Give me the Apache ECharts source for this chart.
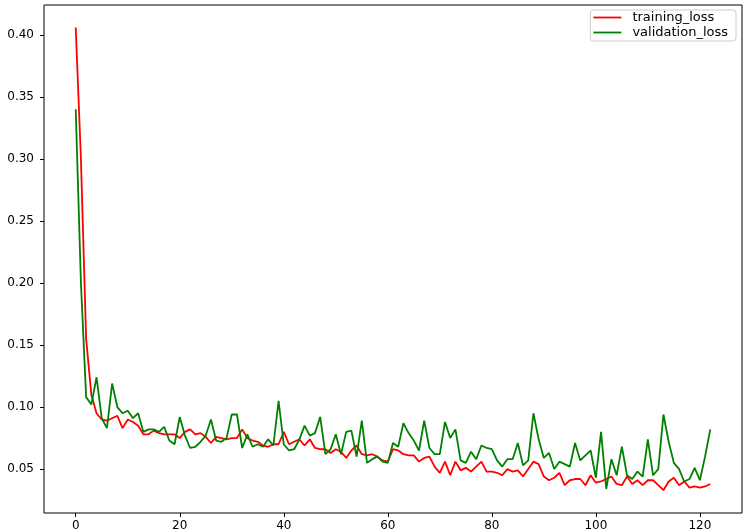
<!DOCTYPE html>
<html><head><meta charset="utf-8">
<script src="https://cdn.jsdelivr.net/npm/echarts@6/dist/echarts.min.js"></script>
<style>html,body{margin:0;padding:0;background:#fff}#c{width:750px;height:532px}</style>
</head><body><div id="c"></div>
<script>
const xTicks = [0, 20, 40, 60, 80, 100, 120];
const yTicks = [0.05, 0.10, 0.15, 0.20, 0.25, 0.30, 0.35, 0.40];
const trainingLoss = [0.406,0.30,0.155,0.11,0.095,0.09,0.089,0.091,0.093,0.083,0.09,0.088,0.085,0.078,0.078,0.081,0.079,0.078,0.078,0.078,
0.075,0.08,0.082,0.078,0.079,0.076,0.071,0.076,0.075,0.074,0.075,0.075,0.082,0.075,0.073,0.072,0.069,0.068,0.07,0.07,
0.08,0.07,0.072,0.074,0.069,0.074,0.067,0.066,0.066,0.063,0.066,0.064,0.059,0.065,0.069,0.062,0.061,0.062,0.06,0.057,
0.056,0.066,0.065,0.062,0.061,0.061,0.056,0.059,0.06,0.052,0.047,0.056,0.045,0.056,0.049,0.051,0.048,0.052,0.056,0.048,
0.048,0.047,0.045,0.05,0.048,0.049,0.044,0.05,0.056,0.054,0.044,0.041,0.043,0.047,0.037,0.041,0.042,0.042,0.037,0.045,
0.039,0.04,0.042,0.044,0.038,0.037,0.044,0.038,0.041,0.037,0.041,0.041,0.037,0.033,0.04,0.043,0.037,0.04,0.035,0.036,
0.035,0.036,0.038];
const validationLoss = [0.34,0.20,0.108,0.102,0.124,0.091,0.083,0.119,0.10,0.095,0.097,0.091,0.095,0.08,0.082,0.082,0.08,0.084,0.073,0.07,
0.092,0.077,0.067,0.068,0.072,0.077,0.09,0.073,0.072,0.075,0.094,0.094,0.067,0.078,0.068,0.07,0.068,0.074,0.069,0.105,
0.07,0.065,0.066,0.074,0.085,0.077,0.079,0.092,0.062,0.066,0.078,0.062,0.08,0.081,0.06,0.089,0.055,0.058,0.06,0.056,
0.055,0.071,0.068,0.087,0.079,0.073,0.065,0.089,0.067,0.062,0.062,0.088,0.075,0.082,0.057,0.055,0.064,0.058,0.069,0.067,
0.066,0.057,0.052,0.058,0.058,0.071,0.053,0.057,0.095,0.074,0.059,0.063,0.05,0.056,0.054,0.052,0.071,0.057,0.061,0.065,
0.043,0.08,0.034,0.058,0.045,0.068,0.045,0.042,0.048,0.044,0.074,0.045,0.05,0.094,0.072,0.055,0.05,0.04,0.042,0.051,
0.041,0.06,0.082];

const epochs = trainingLoss.map((_, i) => i);
const chart = echarts.init(document.getElementById('c'), null, {renderer: 'canvas'});
const font = 'DejaVu Sans';
chart.setOption({
  animation: false,
  backgroundColor: '#fff',
  grid: {left: 44, right: 8, top: 5, bottom: 18, show: true, borderColor: '#000', borderWidth: 1, backgroundColor: 'transparent'},
  legend: {
    right: 14, top: 10, orient: 'vertical',
    data: ['training_loss', 'validation_loss'],
    icon: 'rect', itemWidth: 28, itemHeight: 1.8, itemGap: 2,
    borderColor: '#ccc', borderWidth: 1, borderRadius: 3, padding: [1, 8, 2, 3],
    backgroundColor: '#fff',
    textStyle: {fontFamily: font, fontSize: 13, color: '#000', padding: [0, 0, 0, 6]}
  },
  xAxis: {
    type: 'value', min: -6.1, max: 128.1,
    splitLine: {show: false},
    axisLine: {show: false, onZero: false},
    axisTick: {show: true, inside: false, length: 4, lineStyle: {color: '#000'}, customValues: xTicks},
    axisLabel: {fontFamily: font, fontSize: 12, color: '#000', margin: 7, customValues: xTicks}
  },
  yAxis: {
    type: 'value', min: 0.0146, max: 0.4241,
    splitLine: {show: false},
    axisLine: {show: false, onZero: false},
    axisTick: {show: true, inside: false, length: 4, lineStyle: {color: '#000'}, customValues: yTicks},
    axisLabel: {fontFamily: font, fontSize: 12, color: '#000', margin: 10, customValues: yTicks, formatter: v => v.toFixed(2)}
  },
  series: [
    {name: 'training_loss', type: 'line', data: epochs.map(i => [i, trainingLoss[i]]), showSymbol: false, symbol: 'none', lineStyle: {color: 'red', width: 1.8}, itemStyle: {color: 'red'}},
    {name: 'validation_loss', type: 'line', data: epochs.map(i => [i, validationLoss[i]]), showSymbol: false, symbol: 'none', lineStyle: {color: 'green', width: 1.8}, itemStyle: {color: 'green'}}
  ]
});
</script></body></html>
